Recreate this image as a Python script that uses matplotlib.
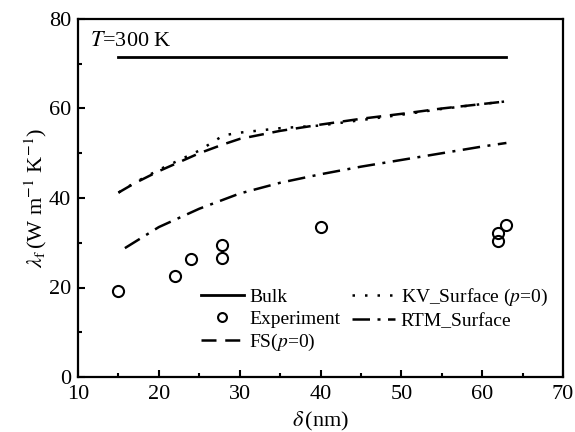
import matplotlib
matplotlib.use("Agg")
import matplotlib.pyplot as plt
from matplotlib.ticker import MultipleLocator

plt.rcParams['font.family'] = ['Liberation Serif', 'DejaVu Serif']
plt.rcParams['mathtext.fontset'] = 'stix'

# Data
bulk_x = [15, 63]
bulk_y = [71.5, 71.5]

exp_x = [15, 22, 24, 27.8, 27.8, 40, 62, 62, 63]
exp_y = [19.3, 22.5, 26.3, 26.5, 29.6, 33.6, 30.5, 32.1, 33.9]

fs_x = [15, 17, 20, 25, 28, 30, 35, 40, 45, 50, 55, 60, 63]
fs_y = [41.2, 43.3, 46.0, 50.0, 52.0, 53.2, 55.0, 56.4, 57.7, 58.8, 60.0, 61.0, 61.6]

kv_x = [15, 17, 20, 25, 28, 30, 35, 40, 45, 50, 55, 60, 63]
kv_y = [41.2, 43.4, 46.3, 50.6, 54.0, 54.6, 55.6, 56.2, 57.4, 58.6, 59.9, 61.0, 61.6]

rtm_x = [15.8, 20, 25, 30, 35, 40, 45, 50, 55, 60, 63]
rtm_y = [28.8, 33.5, 37.6, 41.0, 43.4, 45.3, 47.0, 48.5, 50.0, 51.5, 52.3]

fig = plt.figure(figsize=(5.75, 4.32), dpi=100)
ax = fig.add_axes([78/575, 1 - 377/432, (563-78)/575, (377-19)/432])

ax.plot(bulk_x, bulk_y, color='black', lw=2.0, label='Bulk')
ax.plot(exp_x, exp_y, ls='none', marker='o', ms=8, mfc='none', mec='black', mew=1.5,
        label='Experiment')
ax.plot(fs_x, fs_y, color='black', lw=1.8, dashes=(6, 3.5), label='FS($p$=0)')
ax.plot(kv_x, kv_y, color='black', lw=1.8, dashes=(1, 4), label='KV_Surface ($p$=0)')
ax.plot(rtm_x, rtm_y, color='black', lw=1.8, dashes=(7, 3, 1.2, 3), label='RTM_Surface')

ax.set_xlim(10, 70)
ax.set_ylim(0, 80)
ax.xaxis.set_major_locator(MultipleLocator(10))
ax.xaxis.set_minor_locator(MultipleLocator(5))
ax.yaxis.set_major_locator(MultipleLocator(20))
ax.yaxis.set_minor_locator(MultipleLocator(10))
ax.tick_params(which='both', direction='in', top=False, right=False, labelsize=16, width=1.5)
ax.tick_params(which='major', length=5)
ax.tick_params(which='minor', length=3)
ax.tick_params(axis='x', pad=6)
ax.tick_params(axis='y', pad=5)
for s in ax.spines.values():
    s.set_linewidth(1.6)

ax.set_xlabel(r'$\delta\,$(nm)', fontsize=16, labelpad=4)
ax.set_ylabel(r'$\lambda_{\rm f}\,$(W m$^{-1}$ K$^{-1}$)', fontsize=16, labelpad=0)

ax.text(0.025, 0.965, r'$T$=300 K', transform=ax.transAxes, fontsize=16, va='top', ha='left')

ax.legend(loc='upper left', bbox_to_anchor=(0.225, 0.29), ncol=2, frameon=False,
          fontsize=14, handlelength=2.2, columnspacing=0.6, handletextpad=0.3,
          labelspacing=0.22, borderpad=0.2, markerscale=0.8)

fig.savefig('out.png', dpi=100)
